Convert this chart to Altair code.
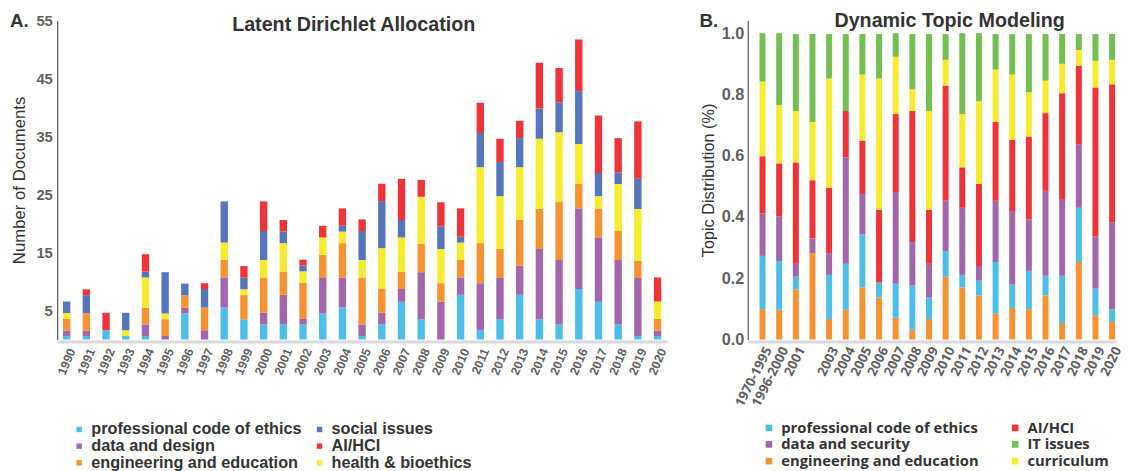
import altair as alt
import pandas as pd

# ---------------- Panel A: Latent Dirichlet Allocation ----------------
lda_years = [str(y) for y in range(1990, 2021)]
lda_topics = ["professional code of ethics", "data and design", "engineering and education",
              "health & bioethics", "social issues", "AI/HCI"]  # stacking order, bottom to top
lda_prof = [0.6, 0.6, 1.6, 0.6, 0.6, 0, 4.5, 0, 5.5, 3.5, 2.6, 2.6, 2.6, 4.5, 5.5, 0.6, 2.6, 6.5, 3.5, 0,
            7.7, 1.6, 3.5, 7.7, 3.5, 2.6, 8.7, 6.5, 2.6, 0.6, 0.6]
lda_data = [0.95, 0.95, 0, 0, 2.0, 0.6, 0.95, 1.6, 5.2, 0, 2.0, 5.1, 0.95, 6.1, 5.2, 2.0, 2.0, 2.2, 8.1, 6.5,
            3.0, 8.1, 7.1, 5.0, 12.1, 11.1, 13.9, 11.1, 11.1, 10.0, 0.95]
lda_eng = [2.0, 3.0, 0, 0, 2.9, 2.9, 2.2, 3.9, 3.0, 4.15, 6.1, 4.0, 6.2, 4.0, 5.9, 8.1, 4.15, 3.0, 4.9, 3.2,
           3.0, 6.9, 5.0, 7.9, 6.9, 10.1, 4.2, 4.9, 5.0, 3.0, 2.0]
lda_health = [1.0, 0, 0, 1.0, 5.2, 1.0, 0, 0, 3.0, 1.0, 3.0, 4.9, 2.0, 3.0, 2.0, 3.0, 7.0, 5.9, 8.1, 5.9,
              3.0, 13.1, 9.1, 9.1, 12.1, 11.9, 6.9, 2.2, 8.1, 8.9, 3.0]
lda_social = [2.0, 3.1, 0, 3.0, 1.0, 7.1, 2.0, 3.2, 7.1, 2.0, 5.0, 2.0, 1.0, 0, 1.0, 5.0, 8.1, 3.0, 0, 3.9,
              1.0, 5.9, 5.9, 5.0, 5.2, 5.2, 9.1, 4.0, 2.0, 5.2, 0]
lda_ai = [0, 1.0, 3.0, 0, 3.0, 0, 0, 1.0, 0, 2.0, 5.1, 2.0, 1.0, 2.0, 3.0, 2.0, 3.0, 7.1, 2.9, 4.15,
          4.9, 5.2, 4.0, 3.0, 7.9, 5.9, 8.9, 9.9, 5.9, 9.9, 4.15]
# legend fills column by column
lda_legend_order = ["professional code of ethics", "data and design", "engineering and education",
                    "social issues", "AI/HCI", "health & bioethics"]
lda_colors = ["#4DBEEA", "#A266AA", "#F79233", "#5576BA", "#EF3439", "#F6EB2F"]

# ---------------- Panel B: Dynamic Topic Modeling ----------------
dtm_periods = ["1970-1995", "1996-2000"] + [str(y) for y in range(2001, 2021)]
dtm_topics = ["engineering and education", "professional code of ethics", "data and security",
              "AI/HCI", "curriculum", "IT issues"]  # stacking order, bottom to top
dtm_eng = [.099, .097, .163, .282, .067, .097, .170, .137, .071, .032, .067, .205, .170, .144, .084, .103,
           .099, .144, .054, .253, .079, .058]
dtm_prof = [.174, .159, .042, 0, .144, .150, .173, .049, .111, .144, .070, .084, .041, .048, .169, .076,
            .125, .064, .154, .177, .087, .041]
dtm_data = [.138, .145, .042, .048, .071, .347, .132, 0, .297, .142, .110, .164, .219, .048, .200, .238,
            .168, .277, .248, .206, .171, .283]
dtm_ai = [.187, .174, .331, .190, .213, .152, .174, .238, .257, .428, .177, .376, .132, .268, .257, .235,
          .270, .254, .348, .258, .486, .451]
dtm_curr = [.244, .190, .168, .190, .357, 0, .216, .428, .187, .071, .322, .084, .174, .270, .171, .213,
            .145, .106, .096, .051, .087, .080]
dtm_it = [.158, .235, .251, .287, .145, .251, .132, .145, .077, .180, .251, .084, .264, .222, .116, .132,
          .190, .152, .097, .052, .087, .084]
dtm_legend_order = ["professional code of ethics", "data and security", "engineering and education",
                    "AI/HCI", "IT issues", "curriculum"]
dtm_colors = ["#4DBEEA", "#A266AA", "#F79233", "#EF3439", "#73BF51", "#F6EB2F"]

# ---------------- build long tables ----------------
rows = []
for series, name in zip([lda_prof, lda_data, lda_eng, lda_health, lda_social, lda_ai], lda_topics):
    for yr, v in zip(lda_years, series):
        rows.append({"year": yr, "topic": name, "value": v, "stack": lda_topics.index(name)})
df_a = pd.DataFrame(rows)

rows = []
for series, name in zip([dtm_eng, dtm_prof, dtm_data, dtm_ai, dtm_curr, dtm_it], dtm_topics):
    for p, v in zip(dtm_periods, series):
        rows.append({"period": p, "topic": name, "value": v, "stack": dtm_topics.index(name)})
df_b = pd.DataFrame(rows)

ARIAL = "Liberation Sans"
HUMAN = "Open Sans"
GRAY = "#5f5f5f"
DARK = "#333333"
PLOT_H = 324


def label_layer(text, x, y, size, align="left"):
    return alt.Chart(pd.DataFrame({"t": [text]})).mark_text(
        align=align, baseline="alphabetic", font=ARIAL, fontSize=size, fontWeight="bold", color=DARK
    ).encode(x=alt.value(x), y=alt.value(y), text="t:N")


# ---------------- Panel A chart ----------------
bars_a = alt.Chart(df_a).mark_bar().encode(
    x=alt.X("year:N", sort=lda_years,
            scale=alt.Scale(paddingInner=0.625, paddingOuter=0.29, align=0.5),
            axis=alt.Axis(title=None, labelAngle=-67, labelAlign="right", labelBaseline="top",
                          labelFont=ARIAL, labelFontSize=12.5,
                          labelFontWeight="bold", labelColor=GRAY, domainColor="#d9d9d9",
                          domainWidth=3, ticks=False, tickSize=0, labelPadding=5, offset=2)),
    y=alt.Y("value:Q", stack="zero", scale=alt.Scale(domain=[0, 55], nice=False),
            axis=alt.Axis(values=[5, 15, 25, 35, 45, 55], title="Number of Documents",
                          titleFont=ARIAL, titleFontSize=17, titleFontWeight="normal",
                          titleColor=DARK, titlePadding=8, labelFont=ARIAL, labelFontSize=15,
                          labelFontWeight="bold", labelColor=GRAY, ticks=False, tickSize=0,
                          labelPadding=5, domainColor=DARK, domainWidth=1, grid=False)),
    color=alt.Color("topic:N", scale=alt.Scale(domain=lda_legend_order, range=lda_colors),
                    legend=alt.Legend(title=None, orient="none", legendX=14, legendY=407, columns=2,
                                      symbolType="square", symbolSize=30, symbolStrokeWidth=0,
                                      labelFont=ARIAL, labelFontSize=16.5, labelFontWeight="bold",
                                      labelColor=DARK, labelOffset=4, columnPadding=9,
                                      rowPadding=0, padding=0, labelLimit=400)),
    order=alt.Order("stack:Q", sort="ascending"),
)

chart_a = alt.layer(
    bars_a,
    label_layer("A.", -48, 7, 19),
    label_layer("Latent Dirichlet Allocation", 301, 11, 20, align="center"),
).properties(width=619, height=PLOT_H)

# ---------------- Panel B chart ----------------
bars_b = alt.Chart(df_b).mark_bar().encode(
    x=alt.X("period:N", sort=dtm_periods,
            scale=alt.Scale(paddingInner=0.64, paddingOuter=0.385, align=0.92),
            axis=alt.Axis(title=None, labelAngle=-63, labelAlign="right", labelBaseline="top",
                          labelFont=HUMAN, labelFontSize=13.5,
                          labelFontWeight="bold", labelColor=GRAY, domainColor="#d9d9d9",
                          domainWidth=3, ticks=False, tickSize=0, labelPadding=3, offset=2,
                          labelExpr="datum.label == '2002' ? '' : datum.label")),
    y=alt.Y("value:Q", stack="zero", scale=alt.Scale(domain=[0, 1.0418], nice=False),
            axis=alt.Axis(values=[0, 0.2, 0.4, 0.6, 0.8, 1.0], format=".1f",
                          title="Topic Distribution (%)", titleFont=ARIAL, titleFontSize=16.5,
                          titleFontWeight="normal", titleColor=DARK, titlePadding=5,
                          labelFont=ARIAL, labelFontSize=16.5, labelFontWeight="bold",
                          labelColor=GRAY, ticks=False, tickSize=0, labelPadding=4,
                          domainColor=DARK, domainWidth=1, grid=False)),
    color=alt.Color("topic:N", scale=alt.Scale(domain=dtm_legend_order, range=dtm_colors),
                    legend=alt.Legend(title=None, orient="none", legendX=14, legendY=406, columns=2,
                                      symbolType="square", symbolSize=45, symbolStrokeWidth=0,
                                      labelFont=HUMAN, labelFontSize=15, labelFontWeight="bold",
                                      labelColor=DARK, labelOffset=5, columnPadding=29,
                                      rowPadding=1, padding=0, labelLimit=400)),
    order=alt.Order("stack:Q", sort="ascending"),
)

chart_b = alt.layer(
    bars_b,
    label_layer("B.", -49, 7, 19),
    label_layer("Dynamic Topic Modeling", 205, 7, 20, align="center"),
).properties(width=374, height=PLOT_H)

chart = alt.hconcat(chart_a, chart_b, spacing=31).resolve_scale(color="independent").configure_view(
    stroke=None
).properties(padding={"left": 2, "top": 0, "right": 0, "bottom": 0})

chart.save("out.html", embed_options={"renderer": "svg", "actions": False})
